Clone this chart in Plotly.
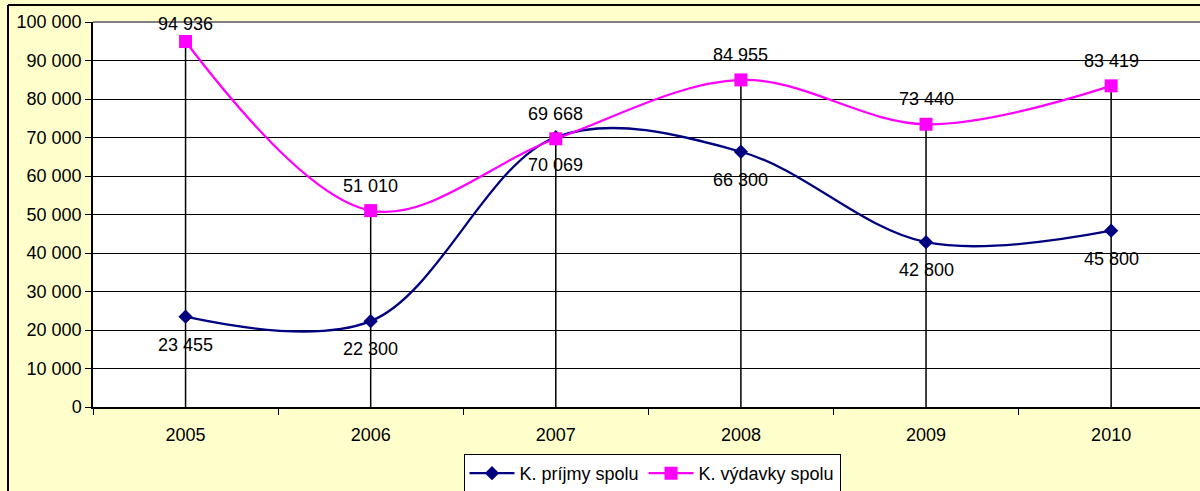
import plotly.graph_objects as go

years = ["2005", "2006", "2007", "2008", "2009", "2010"]
prijmy = [23455, 22300, 70069, 66300, 42800, 45800]
vydavky = [94936, 51010, 69668, 84955, 73440, 83419]
name_prijmy = "K. príjmy spolu"
name_vydavky = "K. výdavky spolu"
y_ticks = [0, 10000, 20000, 30000, 40000, 50000, 60000, 70000, 80000, 90000, 100000]

FONT = "Liberation Sans, Arial, sans-serif"
W, H = 1200, 491
L, R, T, B = 93, 0, 22, 84

def fmt(v):
    return f"{v:,}".replace(",", " ")

fig = go.Figure()

# drop lines from each category to the highest point
dx, dy = [], []
for yr, a, b in zip(years, prijmy, vydavky):
    dx += [yr, yr, None]
    dy += [0, max(a, b), None]
fig.add_trace(go.Scatter(x=dx, y=dy, mode="lines", line=dict(color="black", width=1.5),
                         showlegend=False, hoverinfo="skip", cliponaxis=False))

fig.add_trace(go.Scatter(
    x=years, y=prijmy, name=name_prijmy, mode="lines+markers",
    line=dict(color="#000080", width=2.3, shape="spline", smoothing=1.0),
    marker=dict(symbol="diamond", size=11, color="#000080"), cliponaxis=False))

fig.add_trace(go.Scatter(
    x=years, y=vydavky, name=name_vydavky, mode="lines+markers",
    line=dict(color="#FF00FF", width=2.3, shape="spline", smoothing=1.0),
    marker=dict(symbol="square", size=13, color="#FF00FF"), cliponaxis=False))

annotations = []
for i, v in enumerate(prijmy):
    annotations.append(dict(x=i, y=v, xref="x", yref="y", text=fmt(v), showarrow=False,
                            yshift=-28, font=dict(family=FONT, size=18, color="black")))
for i, v in enumerate(vydavky):
    annotations.append(dict(x=i, y=v, xref="x", yref="y", text=fmt(v), showarrow=False,
                            yshift=25 if v < 90000 else 18,
                            font=dict(family=FONT, size=18, color="black")))

pw = W - L - R
ph = H - T - B
def px_x(p):
    return (p - L) / pw
def px_y(p):
    return (H - B - p) / ph

fig.update_layout(
    width=W, height=H,
    margin=dict(l=L, r=R, t=T, b=B, autoexpand=False),
    paper_bgcolor="#FFFFCC",
    plot_bgcolor="white",
    separators=", ",
    font=dict(family=FONT, size=18, color="black"),
    xaxis=dict(type="category", range=[-0.5, 5.48], tickson="boundaries",
               ticks="outside", ticklen=6, tickcolor="black", showline=True,
               linecolor="black", linewidth=1.5, showgrid=False, zeroline=False,
               tickfont=dict(family=FONT, size=18), automargin=False,
               ticklabelstandoff=11),
    yaxis=dict(range=[0, 100000], tickvals=y_ticks, tickformat=",d",
               ticks="outside", ticklen=6, tickcolor="black", showline=True,
               linecolor="black", linewidth=1.5, showgrid=True, gridcolor="black",
               gridwidth=1, zeroline=False, tickfont=dict(family=FONT, size=18),
               automargin=False),
    legend=dict(orientation="h", x=px_x(652), xanchor="center", y=px_y(454), yanchor="top",
                bgcolor="white", bordercolor="black", borderwidth=1,
                font=dict(family=FONT, size=18), tracegroupgap=0, itemwidth=45),
    annotations=annotations,
    shapes=[
        dict(type="line", xref="paper", yref="paper", x0=px_x(8), x1=px_x(8), y0=-0.5, y1=px_y(5),
             line=dict(color="black", width=2)),
        dict(type="line", xref="paper", yref="paper", x0=px_x(8), x1=1.2, y0=px_y(5), y1=px_y(5),
             line=dict(color="black", width=2)),
        dict(type="line", xref="paper", yref="paper", x0=0, x1=1, y0=1, y1=1,
             line=dict(color="#808080", width=2)),
    ],
)

fig.write_html("out.html", config={"displayModeBar": False},
               post_script="document.body.style.margin='0';")
